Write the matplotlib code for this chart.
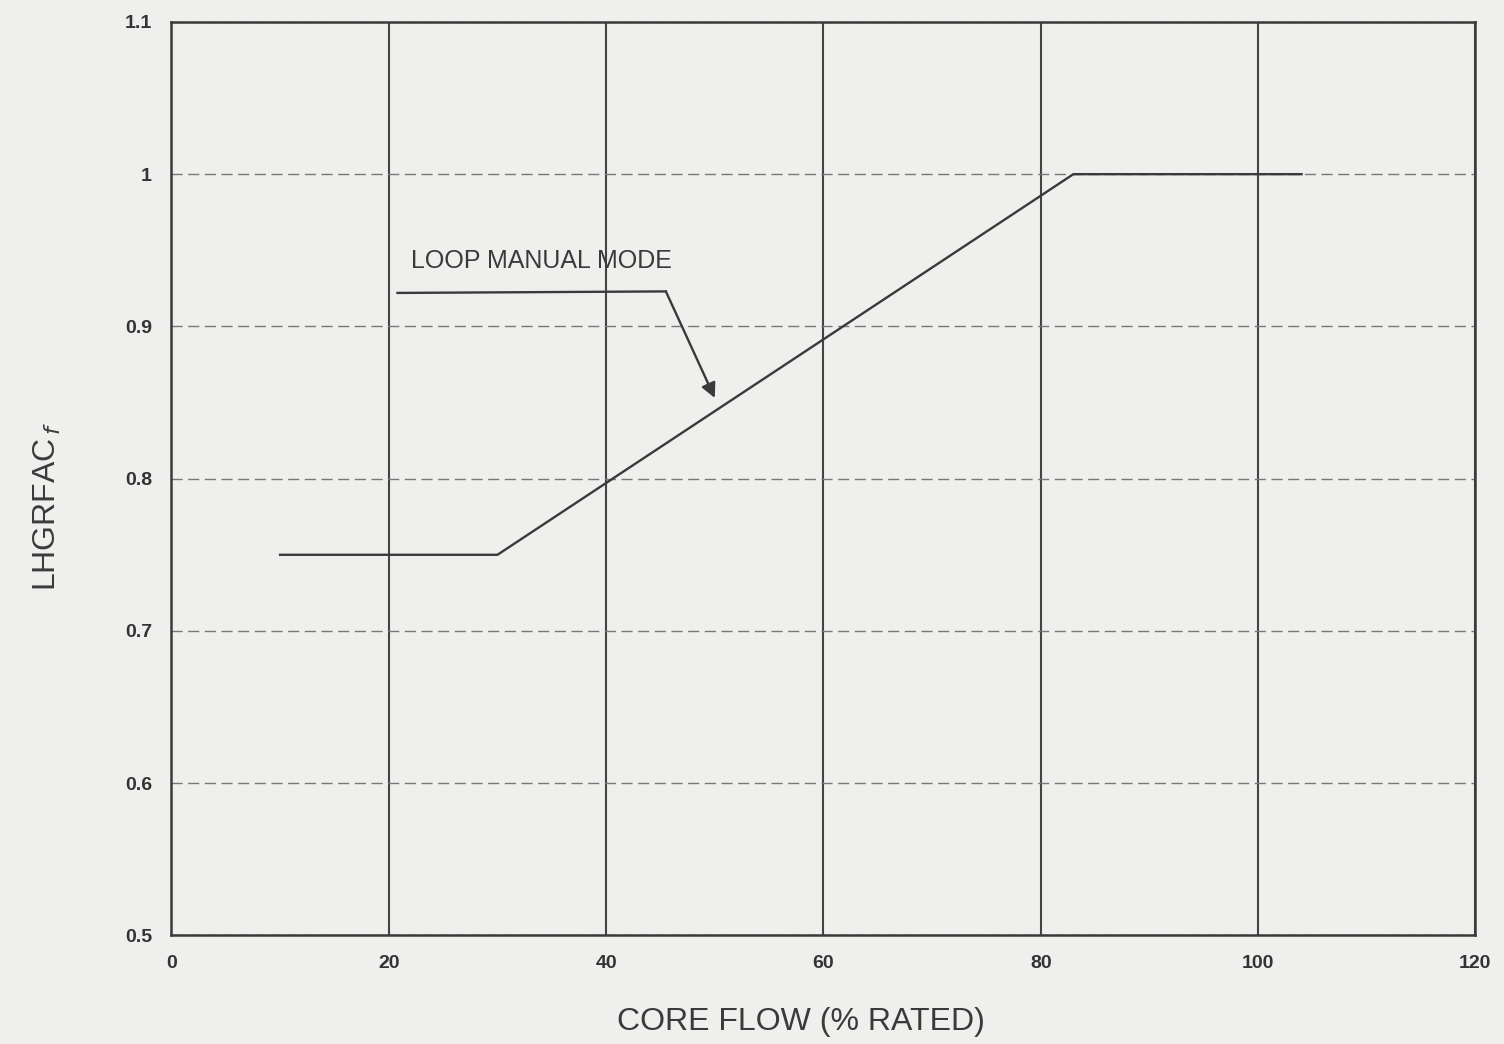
"""Recreate the LHGRFAC_f vs core flow chart (loop manual mode)."""
from matplotlib import pyplot as plt

flow = [10, 30, 83, 104]
lhgrfac = [0.75, 0.75, 1.0, 1.0]

x_ticks = [0, 20, 40, 60, 80, 100, 120]
y_ticks = [0.5, 0.6, 0.7, 0.8, 0.9, 1.0, 1.1]
y_tick_labels = ['0.5', '0.6', '0.7', '0.8', '0.9', '1', '1.1']

plt.rcParams['font.family'] = ['Liberation Sans', 'DejaVu Sans']

fig = plt.figure(figsize=(15.04, 10.44), dpi=100)
fig.patch.set_facecolor('#efefed')
ax = fig.add_axes([0.114, 0.104, 0.867, 0.875])
ax.set_facecolor('#efefed')

ax.set_xlim(0, 120)
ax.set_ylim(0.5, 1.1)
ax.set_xticks(x_ticks)
ax.set_yticks(y_ticks)
ax.set_yticklabels(y_tick_labels)
ax.tick_params(length=0, labelsize=14, colors='#333333', pad=14)
for lbl in ax.get_xticklabels() + ax.get_yticklabels():
    lbl.set_fontweight('bold')

# vertical grid solid, horizontal grid dashed and lighter
ax.xaxis.grid(True, color='#444444', linewidth=1.5)
ax.yaxis.grid(True, color='#777777', linewidth=1.0, linestyle=(0, (8, 4)))
ax.set_axisbelow(True)
for spine in ax.spines.values():
    spine.set_color('#3a3a3a')
    spine.set_linewidth(1.8)

ax.plot(flow, lhgrfac, color='#3a3a3a', linewidth=1.7)

# callout
ax.text(22, 0.935, 'LOOP MANUAL MODE', fontsize=18, color='#3a3a3a',
        ha='left', va='bottom')
ax.plot([20.8, 45.5], [0.922, 0.923], color='#3a3a3a', linewidth=1.7)
ax.annotate('', xy=(50.0, 0.853), xytext=(45.5, 0.923),
            arrowprops=dict(arrowstyle='-|>', color='#3a3a3a', lw=1.7,
                            mutation_scale=22, shrinkA=0, shrinkB=0))

ax.set_xlabel('CORE FLOW (% RATED)', fontsize=23, color='#3a3a3a')
ax.xaxis.set_label_coords(0.483, -0.078)
ax.set_ylabel('LHGRFAC$_{\\,f}$', fontsize=23, color='#3a3a3a')
ax.yaxis.set_label_coords(-0.083, 0.47)

fig.savefig('out.png', dpi=100, facecolor=fig.get_facecolor())
